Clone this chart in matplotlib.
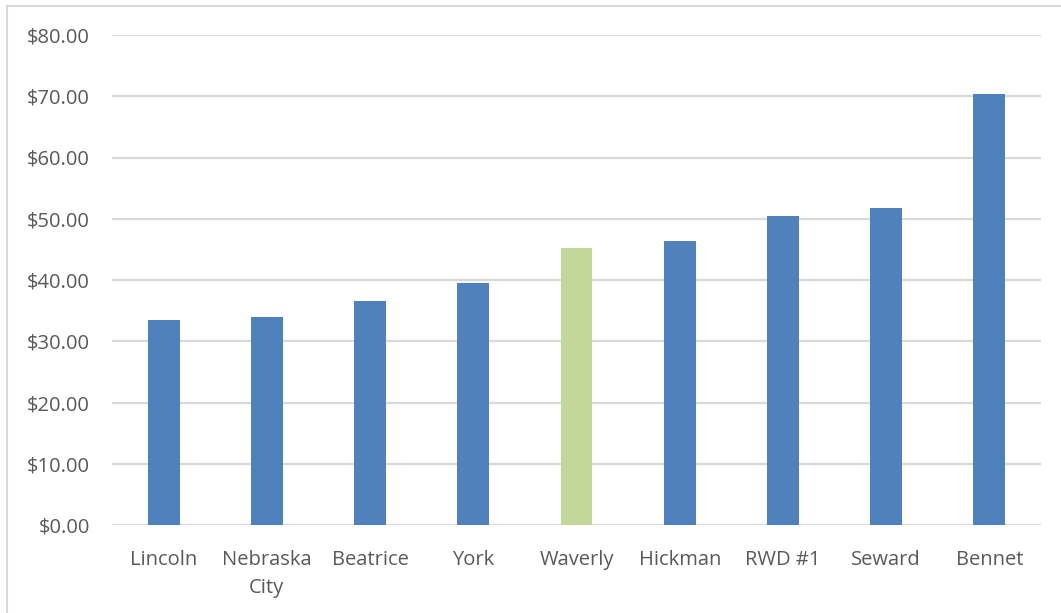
import matplotlib
matplotlib.use("Agg")
import matplotlib.pyplot as plt
from matplotlib.lines import Line2D
from matplotlib.ticker import FuncFormatter, MultipleLocator

# Monthly water bill by community
categories = ["Lincoln", "Nebraska\nCity", "Beatrice", "York", "Waverly",
              "Hickman", "RWD #1", "Seward", "Bennet"]
values = [33.4, 33.9, 36.5, 39.5, 45.2, 46.3, 50.4, 51.7, 70.4]
highlight = "Waverly"

BLUE = "#4F81BD"
GREEN = "#C4D79B"
GRID = "#D9D9D9"
TEXT = "#595959"

plt.rcParams["font.family"] = ["Open Sans", "DejaVu Sans"]

W, H = 1061, 613
fig = plt.figure(figsize=(W / 100, H / 100), dpi=100)

left, right, top, bottom = 112, 1041, 35, 525
ax = fig.add_axes([left / W, 1 - bottom / H, (right - left) / W, (bottom - top) / H])

colors = [GREEN if c == highlight else BLUE for c in categories]
x = list(range(len(categories)))
ax.bar(x, values, width=0.31, color=colors, zorder=3)

ax.set_xlim(-0.5, len(categories) - 0.5)
ax.set_ylim(0, 80)
ax.yaxis.set_major_locator(MultipleLocator(10))
ax.yaxis.set_major_formatter(FuncFormatter(lambda v, p: f"${v:,.2f}"))
ax.grid(axis="y", color=GRID, linewidth=1.6, zorder=0)
ax.set_axisbelow(True)

ax.set_xticks(x)
ax.set_xticklabels(categories, linespacing=1.55)
ax.tick_params(axis="both", length=0, colors=TEXT, labelsize=14.5)
ax.tick_params(axis="y", pad=16)
ax.tick_params(axis="x", pad=18)

for s in ax.spines.values():
    s.set_visible(False)

# Chart frame (left and top edges)
fig.add_artist(Line2D([7 / W, 7 / W], [0, 1 - 6 / H], transform=fig.transFigure,
                      color=GRID, linewidth=1.5))
fig.add_artist(Line2D([7 / W, 1], [1 - 6 / H, 1 - 6 / H], transform=fig.transFigure,
                      color=GRID, linewidth=1.5))

fig.savefig("out.png", dpi=100, facecolor="white")
